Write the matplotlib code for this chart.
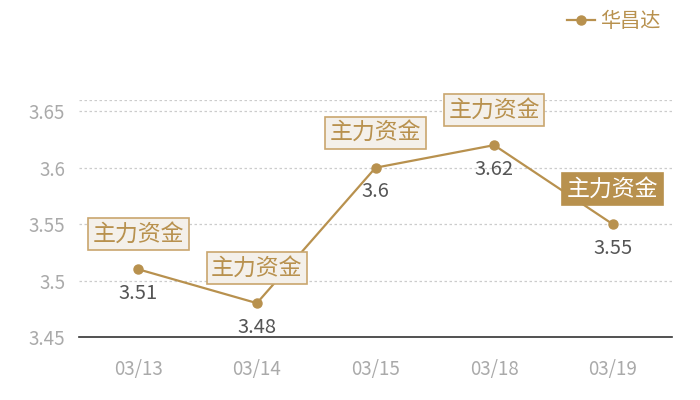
import matplotlib
matplotlib.use("Agg")
import matplotlib.pyplot as plt
from matplotlib.lines import Line2D

plt.rcParams['font.family'] = ['Noto Sans CJK SC', 'DejaVu Sans']

dates = ["03/13", "03/14", "03/15", "03/18", "03/19"]
prices = [3.51, 3.48, 3.60, 3.62, 3.55]
tags = ["主力资金", "主力资金", "主力资金", "主力资金", "主力资金"]
highlight = [False, False, False, False, True]
series_name = "华昌达"
yticks = [3.45, 3.5, 3.55, 3.6, 3.65]

gold = "#b8914e"
fig = plt.figure(figsize=(7, 4), dpi=100)
ax = fig.add_axes([79/700, 63/400, 593/700, 237/400])

x = list(range(len(dates)))
ax.plot(x, prices, color=gold, lw=1.6, marker='o', ms=6.5, zorder=3)
ax.set_xlim(-0.5, len(dates) - 0.5)
ax.set_ylim(3.45, 3.66)
ax.set_xticks(x)
ax.set_xticklabels(dates)
ax.set_yticks(yticks)
ax.set_yticklabels([f"{v:g}" for v in yticks])
ax.tick_params(axis='both', length=0, colors="#aaaaaa", labelsize=13.5)
ax.tick_params(axis='x', pad=16)
ax.tick_params(axis='y', pad=10)
for v in yticks[1:] + [3.66]:
    ax.axhline(v, color="#cccccc", lw=0.9, ls=(0, (2, 2)), zorder=1)
for s in ["top", "right", "left"]:
    ax.spines[s].set_visible(False)
ax.spines["bottom"].set_color("#333333")
ax.spines["bottom"].set_linewidth(1.2)

for i, (p, t, h) in enumerate(zip(prices, tags, highlight)):
    ax.annotate(f"{p:g}", (i, p), xytext=(0, -24), textcoords="offset pixels",
                ha="center", va="center", fontsize=14.5, color="#555555", zorder=4)
    if h:
        fc, ec, tc = gold, gold, "white"
    else:
        fc, ec, tc = "#f4f0ea", "#c9a66e", gold
    ax.annotate(t, (i, p), xytext=(0, 35), textcoords="offset pixels",
                ha="center", va="center", fontsize=16.5, color=tc, zorder=5,
                bbox=dict(boxstyle="square,pad=0.2", fc=fc, ec=ec, lw=1.2))

handle = Line2D([0], [0], color=gold, lw=1.6, marker='o', ms=6.5)
leg = fig.legend([handle], [series_name], loc="upper right", bbox_to_anchor=(0.97, 1.018),
                 frameon=False, fontsize=14.5, handlelength=1.4, handletextpad=0.25)
for txt in leg.get_texts():
    txt.set_color(gold)

fig.savefig("out.png", dpi=100)
